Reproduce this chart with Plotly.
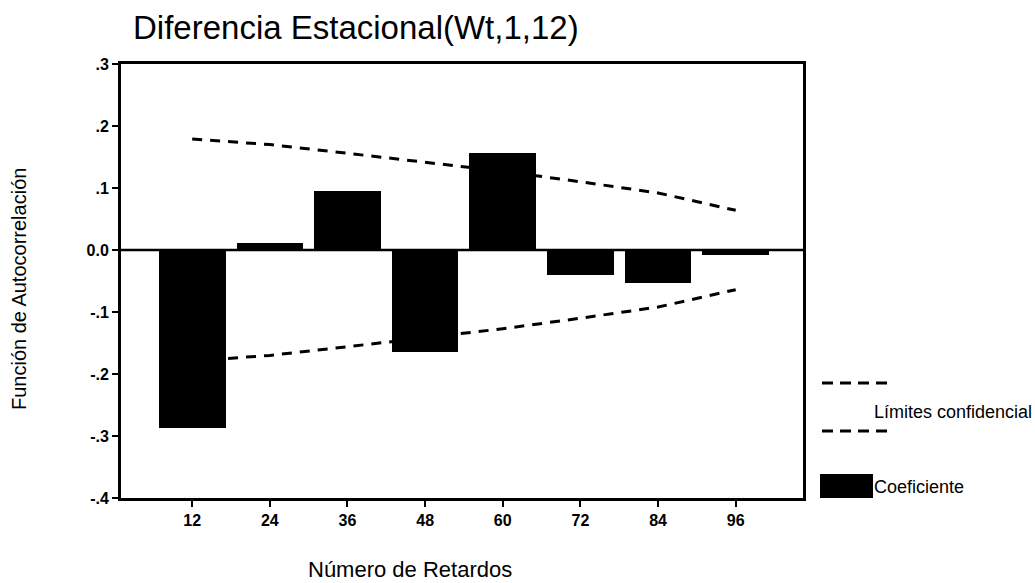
import plotly.graph_objects as go

# Seasonal-difference ACF: lags, coefficients and confidence limits
lags = [12, 24, 36, 48, 60, 72, 84, 96]
lag_labels = ["12", "24", "36", "48", "60", "72", "84", "96"]
coef = [-0.287, 0.012, 0.095, -0.165, 0.156, -0.041, -0.054, -0.008]
upper_limit = [0.179, 0.170, 0.156, 0.142, 0.127, 0.110, 0.092, 0.064]
lower_limit = [-0.179, -0.170, -0.156, -0.142, -0.127, -0.110, -0.092, -0.064]

y_ticks = [0.3, 0.2, 0.1, 0.0, -0.1, -0.2, -0.3, -0.4]
y_tick_labels = [".3", ".2", ".1", "0.0", "-.1", "-.2", "-.3", "-.4"]

FONT = "Liberation Sans, Arial, sans-serif"
X_RANGE = [1.0, 106.4]
Y_RANGE = [-0.4, 0.3]

W, H = 1035, 583
L, R, T, B = 121, 232, 64, 85
PW, PH = W - L - R, H - T - B


def px(x):
    return (x - L) / PW


def py(y):
    return (H - B - y) / PH


fig = go.Figure()

# dashed confidence limits on the base axes
for lim in (upper_limit, lower_limit):
    fig.add_trace(go.Scatter(
        x=lags, y=lim, mode="lines",
        line=dict(color="black", width=3, dash="10px,8px"),
        showlegend=False, hoverinfo="skip",
        xaxis="x", yaxis="y",
    ))

# coefficient bars on overlay axes so they sit on top of the limits
fig.add_trace(go.Bar(
    x=lags, y=coef, width=10.3,
    marker=dict(color="black", line=dict(width=0)),
    showlegend=False, xaxis="x2", yaxis="y2",
))

tick_font = dict(size=16, family=FONT, color="black", weight="bold")
fig.update_layout(
    width=W, height=H,
    margin=dict(l=L, r=R, t=T, b=B),
    plot_bgcolor="white", paper_bgcolor="white",
    font=dict(family=FONT, color="black"),
    title=dict(
        text="Diferencia Estacional(Wt,1,12)",
        x=133 / W, xanchor="left", xref="container",
        y=1 - 27 / H, yanchor="middle", yref="container",
        font=dict(size=33, family=FONT, color="black"),
    ),
    xaxis=dict(
        range=X_RANGE, tickvals=lags, ticktext=lag_labels,
        showgrid=False, zeroline=False,
        showline=True, linecolor="black", linewidth=3, mirror=True,
        ticks="outside", ticklen=6, tickwidth=2, tickcolor="black",
        tickfont=tick_font,
    ),
    yaxis=dict(
        range=Y_RANGE, tickvals=y_ticks, ticktext=y_tick_labels,
        showgrid=False, zeroline=False,
        showline=True, linecolor="black", linewidth=3, mirror=True,
        ticks="outside", ticklen=6, tickwidth=2, tickcolor="black",
        tickfont=tick_font,
    ),
    xaxis2=dict(range=X_RANGE, overlaying="x", visible=False),
    yaxis2=dict(range=Y_RANGE, overlaying="y", visible=False),
    bargap=0,
)

# axis titles
fig.add_annotation(text="Número de Retardos", xref="paper", yref="paper",
                   x=px(410), y=py(569), xanchor="center", yanchor="middle",
                   showarrow=False, font=dict(size=22, family=FONT, color="black"))
fig.add_annotation(text="Función de Autocorrelación", xref="paper", yref="paper",
                   x=px(19), y=py(289), xanchor="center", yanchor="middle",
                   textangle=-90, showarrow=False,
                   font=dict(size=20, family=FONT, color="black"))

# zero reference line across the plot
fig.add_shape(type="line", xref="paper", x0=0, x1=1, yref="y", y0=0, y1=0,
              line=dict(color="black", width=2.5), layer="above")

# legend drawn beside the plot
leg_font = dict(size=18, family=FONT, color="black")
for yy in (383, 431):
    fig.add_shape(type="line", xref="paper", yref="paper",
                  x0=px(822), x1=px(890), y0=py(yy), y1=py(yy),
                  line=dict(color="black", width=3, dash="11px,7px"))
fig.add_annotation(text="Límites confidencial", xref="paper", yref="paper",
                   x=px(872), y=py(412), xanchor="left", yanchor="middle",
                   showarrow=False, font=leg_font)
fig.add_shape(type="rect", xref="paper", yref="paper",
              x0=px(820), x1=px(873), y0=py(498), y1=py(474),
              fillcolor="black", line=dict(width=0))
fig.add_annotation(text="Coeficiente", xref="paper", yref="paper",
                   x=px(872), y=py(487), xanchor="left", yanchor="middle",
                   showarrow=False, font=leg_font)

fig.write_html("out.html")
